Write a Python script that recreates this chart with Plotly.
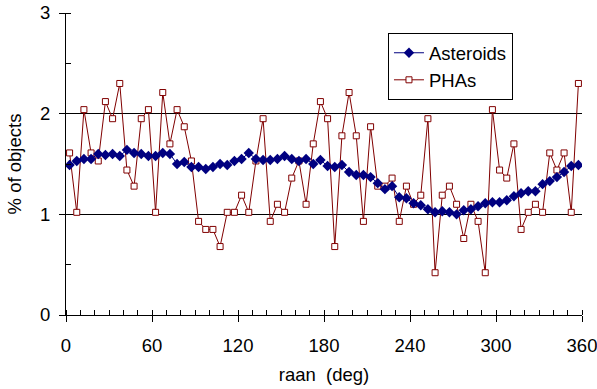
import plotly.graph_objects as go

raan = [2.5 + 5 * k for k in range(72)]

asteroids = [1.49, 1.53, 1.55, 1.55, 1.60, 1.59, 1.60, 1.58, 1.64, 1.61, 1.60, 1.58,
             1.58, 1.61, 1.60, 1.50, 1.52, 1.47, 1.47, 1.45, 1.47, 1.50, 1.49, 1.53,
             1.55, 1.61, 1.55, 1.54, 1.54, 1.55, 1.58, 1.55, 1.53, 1.55, 1.50, 1.54,
             1.48, 1.47, 1.49, 1.42, 1.39, 1.39, 1.37, 1.31, 1.25, 1.28, 1.17, 1.16,
             1.11, 1.09, 1.05, 1.02, 1.03, 1.02, 1.00, 1.04, 1.05, 1.08, 1.11, 1.12,
             1.12, 1.14, 1.18, 1.21, 1.23, 1.23, 1.30, 1.33, 1.37, 1.42, 1.48, 1.49]

phas = [1.61, 1.02, 2.04, 1.61, 1.53, 2.12, 1.95, 2.30, 1.44, 1.28, 1.95, 2.04,
        1.02, 2.21, 1.70, 2.04, 1.87, 1.53, 0.93, 0.85, 0.85, 0.68, 1.02, 1.02,
        1.19, 1.02, 1.53, 1.95, 0.93, 1.10, 1.02, 1.36, 1.53, 1.10, 1.70, 2.12,
        1.95, 0.68, 1.78, 2.21, 1.78, 0.93, 1.87, 1.28, 1.28, 1.36, 0.93, 1.28,
        1.10, 1.19, 1.95, 0.42, 1.19, 1.28, 1.10, 0.76, 1.10, 0.93, 0.42, 2.04,
        1.44, 1.36, 1.70, 0.85, 1.02, 1.10, 1.02, 1.61, 1.44, 1.61, 1.02, 2.30]

x_ticks = [0, 60, 120, 180, 240, 300, 360]
y_ticks = [0, 1, 2, 3]

FONT = "Liberation Sans, Arial, sans-serif"
FS = 18.5

fig = go.Figure()
fig.add_trace(go.Scatter(
    x=raan, y=phas, name="PHAs", mode="lines+markers",
    line=dict(color="#800000", width=1),
    marker=dict(symbol="square", size=6, color="white",
                line=dict(color="#800000", width=1)),
    legendrank=2,
))
fig.add_trace(go.Scatter(
    x=raan, y=asteroids, name="Asteroids", mode="lines+markers",
    line=dict(color="#000080", width=1),
    marker=dict(symbol="diamond", size=8, color="#000080",
                line=dict(width=0)),
    legendrank=1,
))

fig.update_layout(
    width=597, height=389,
    margin=dict(l=66, r=15, t=13, b=74, autoexpand=False),
    paper_bgcolor="white", plot_bgcolor="white",
    font=dict(family=FONT, size=FS, color="black"),
    showlegend=True,
    legend=dict(x=0.624, y=0.933, xanchor="left", yanchor="top",
                bordercolor="black", borderwidth=1, bgcolor="white",
                font=dict(size=FS), tracegroupgap=0, itemwidth=30),
)
fig.update_xaxes(
    range=[0, 360], tickvals=x_ticks, ticktext=[str(v) for v in x_ticks],
    showgrid=False, zeroline=False, automargin=False, ticklabeloverflow="allow",
    showline=True, linecolor="black", linewidth=1,
    ticks="outside", ticklen=6, tickcolor="black", ticklabelstandoff=8,
    minor=dict(dtick=10, ticks="inside", ticklen=5, tickcolor="black", showgrid=False),
    title=dict(text="raan\u00a0\u00a0(deg)", font=dict(size=FS), standoff=12),
    tickfont=dict(size=FS),
)
fig.update_yaxes(
    range=[0, 3], tickvals=y_ticks, ticktext=[str(v) for v in y_ticks],
    showgrid=True, gridcolor="black", gridwidth=1, zeroline=False, automargin=False,
    ticklabeloverflow="allow",
    showline=True, linecolor="black", linewidth=1,
    ticks="outside", ticklen=6, tickcolor="black", ticklabelstandoff=5,
    minor=dict(dtick=0.5, ticks="inside", ticklen=5, tickcolor="black", showgrid=False),
    title=dict(text="% of objects", font=dict(size=FS), standoff=13),
    tickfont=dict(size=FS),
)

fig.write_html("out.html")
